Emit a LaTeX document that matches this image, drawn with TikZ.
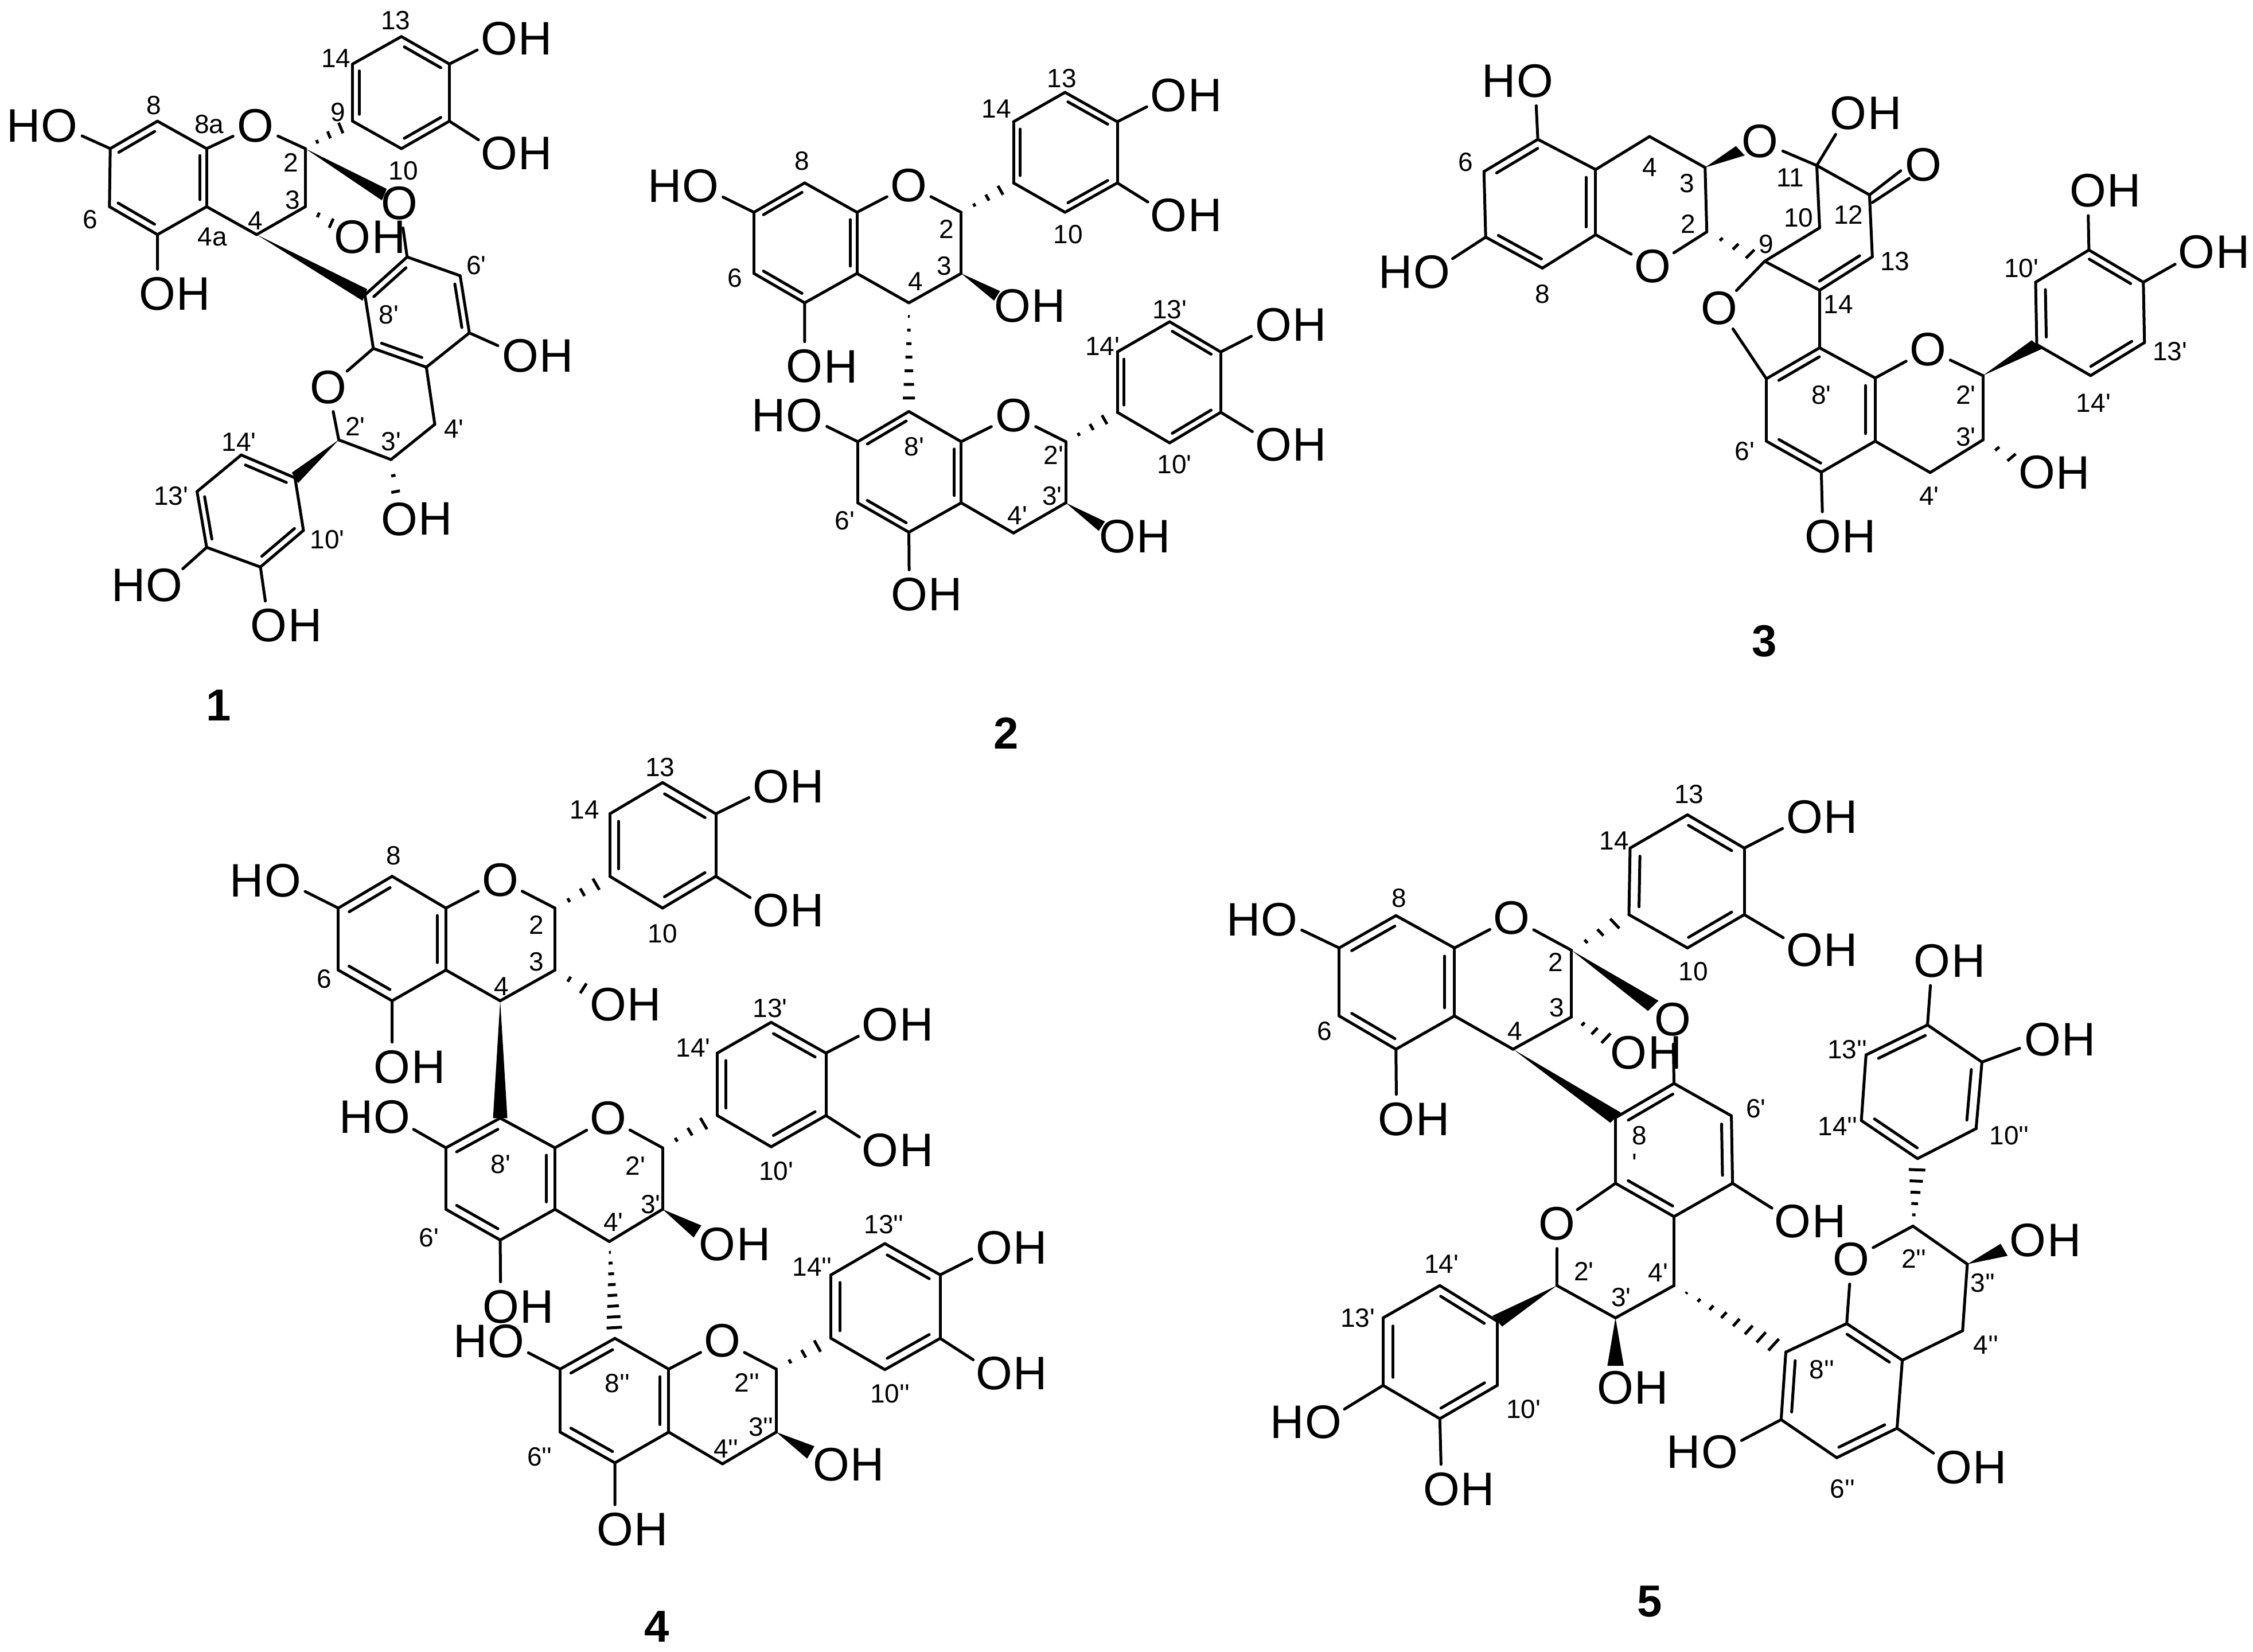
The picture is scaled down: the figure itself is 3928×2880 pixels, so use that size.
\documentclass[tikz,border=0pt]{standalone}
\usepackage{fontspec}
\usetikzlibrary{calc}
\newfontfamily\arialfont{Liberation Sans}
\tikzset{
  bond/.style={line width=5pt,line cap=round},
  oxygen/.style={circle,inner sep=0pt,minimum size=84pt,font=\arialfont\fontsize{82}{82}\selectfont},
  hatom/.style={inner sep=0pt,label distance=-10pt,font=\arialfont\fontsize{82}{82}\selectfont},
  hydroxy/.style={oxygen,label={[hatom]0:H}},
  hydroxyl/.style={oxygen,label={[hatom]180:H}},
  num/.style={inner sep=0pt,font=\arialfont\fontsize{46}{46}\selectfont},
  cpd/.style={inner sep=0pt,font=\arialfont\bfseries\fontsize{78}{78}\selectfont}
}
\newcommand\atoms[1]{\foreach \nm/\x/\y in {#1}{\coordinate (\nm) at (\x,\y);}}
\newcommand\oxy[1]{\foreach \nm/\x/\y in {#1}{\node[oxygen] (\nm) at (\x,\y) {O};}}
\newcommand\oh[1]{\foreach \nm/\x/\y in {#1}{\node[hydroxy] (\nm) at (\x,\y) {O};}}
\newcommand\ho[1]{\foreach \nm/\x/\y in {#1}{\node[hydroxyl] (\nm) at (\x,\y) {O};}}
\newcommand\bonds[1]{\foreach \p/\q in {#1}{\draw[bond] (\p)--(\q);}}
\newcommand\dbl[1]{\foreach \p/\q in {#1}{
  \draw[bond] (\p)--(\q);
  \draw[bond] ($(\p)!.12!(\q)!17pt!90:(\q)$)--($(\q)!.12!(\p)!17pt!-90:(\p)$);}}
\newcommand\wedgebond[3][0pt]{
  \coordinate (wend) at ($(#3)!#1!(#2)$);
  \fill (#2)--($(wend)!14pt!90:(#2)$)--($(wend)!14pt!-90:(#2)$)--cycle;}
\newcommand\hashbond[4][0pt]{
  \coordinate (hend) at ($(#3)!#1!(#2)$);
  \foreach \k in {1,...,#4}{
    \pgfmathsetmacro\tt{\k/(#4+1)}
    \pgfmathsetmacro\hw{17*\tt}
    \coordinate (hmid) at ($(#2)!\tt!(hend)$);
    \draw[line width=5pt] ($(hmid)!\hw pt!90:(hend)$)--($(hmid)!\hw pt!-90:(hend)$);}}
\newcommand\numbers[1]{\foreach \txt/\x/\y [count=\k] in {#1}{\node[num] (n\k) at (\x,\y) {\txt};}}
\begin{document}
\begin{tikzpicture}[x=1pt,y=-1pt]
\path[use as bounding box,fill=white] (0,0) rectangle (3928,2880);

\begin{scope}[name prefix=a-,shift={(0,0)},xscale=.6696,yscale=.7972]
\atoms{c8/410/265,c7/287/325,c6/285/452,c5/410/513,c4a/538/452,c8a/538/325,c2/795/325,c3/795/452,c4/668/513,
  c9/918/265,c14/918/140,c13/1045/80,c12/1170/140,c11/1170/265,c10/1045/325,
  c8p/950/645,c7p/1060/562,c6p/1198/603,c5p/1222/728,c4ap/1110/803,c8ap/972/762,c2p/882/962,c3p/1018/1005,c4p/1132/928,
  c9p/768/1045,c14p/628/995,c13p/513/1075,c12p/538/1197,c11p/678/1240,c10p/790/1160}
\oxy{o1/665/275,o7p/1040/445,o1p/855/847}
\ho{ho7/155/275,ho12p/428/1280}
\oh{oh5/410/643,oh12/1300/85,oh11/1300/335,oh3/918/518,oh5p/1355/778,oh3p/1040/1135,oh11p/700/1368}
\bonds{c7/c6,c5/c4a,c8a/c8,c8a/o1,o1/c2,c2/c3,c3/c4,c4/c4a,c7/ho7,c5/oh5,c14/c13,c12/c11,c10/c9,c12/oh12,c11/oh11,
  c7p/c6p,c5p/c4ap,c8ap/c8p,c7p/o7p,c5p/oh5p,c8ap/o1p,o1p/c2p,c2p/c3p,c3p/c4p,c4p/c4ap,
  c14p/c13p,c12p/c11p,c10p/c9p,c12p/ho12p,c11p/oh11p}
\dbl{c8/c7,c6/c5,c4a/c8a,c14/c9,c10/c11,c12/c13,c7p/c8p,c5p/c6p,c8ap/c4ap,c9p/c14p,c13p/c12p,c11p/c10p}
\hashbond{c2}{c9}{3}
\hashbond[25pt]{c3}{oh3}{2}
\hashbond[25pt]{c3p}{oh3p}{2}
\wedgebond[44pt]{c2}{o7p}
\wedgebond{c4}{c8p}
\wedgebond{c2p}{c9p}
\numbers{8/400/230,8a/545/272,2/758/355,3/762/437,4/665/482,4a/553/518,6/235/480,9/880/245,10/1050/373,13/1030/45,14/875/128,
  6'/1240/580,8'/1012/688,2'/925/932,3'/1018/965,4'/1182/938,14'/622/967,13'/445/1085,10'/852/1180}
\end{scope}

\begin{scope}[name prefix=b-,shift={(1050,100)},scale=.7015]
\atoms{c8/503/312,c7/377/385,c6/377/537,c5/503/610,c4a/633/537,c8a/633/385,c2/892/385,c3/892/537,c4/762/610,
  c9/1022/312,c14/1022/160,c13/1150/87,c12/1280/160,c11/1280/312,c10/1150/385,
  c8p/762/880,c7p/635/955,c6p/635/1107,c5p/762/1180,c4ap/892/1107,c8ap/892/955,c2p/1152/955,c3p/1152/1107,c4p/1022/1182,
  c9p/1280/882,c14p/1280/732,c13p/1410/657,c12p/1537/732,c11p/1537/882,c10p/1410/958}
\oxy{o1/762/318,o1p/1022/890}
\ho{ho7/245/320,ho7p/503/890}
\oh{oh5/503/768,oh12/1408/95,oh11/1408/392,oh3/1020/617,oh5p/763/1335,oh3p/1280/1190,oh12p/1668/665,oh11p/1668/962}
\bonds{c7/c6,c5/c4a,c8a/c8,c8a/o1,o1/c2,c2/c3,c3/c4,c4/c4a,c7/ho7,c5/oh5,c14/c13,c12/c11,c10/c9,c12/oh12,c11/oh11,
  c7p/c6p,c5p/c4ap,c8ap/c8p,c8ap/o1p,o1p/c2p,c2p/c3p,c3p/c4p,c4p/c4ap,c7p/ho7p,c5p/oh5p,
  c14p/c13p,c12p/c11p,c10p/c9p,c12p/oh12p,c11p/oh11p}
\dbl{c8/c7,c6/c5,c4a/c8a,c14/c9,c10/c11,c12/c13,c8p/c7p,c6p/c5p,c4ap/c8ap,c14p/c9p,c10p/c11p,c12p/c13p}
\hashbond{c2}{c9}{3}
\hashbond{c2p}{c9p}{3}
\hashbond{c4}{c8p}{7}
\wedgebond[46pt]{c3}{oh3}
\wedgebond[46pt]{c3p}{oh3p}
\numbers{8/497/258,6/330/548,2/855/427,3/850/518,4/778/557,14/980/128,13/1142/52,10/1158/440,
  8'/775/968,6'/603/1152,2'/1122/988,3'/1118/1090,4'/1032/1138,14'/1243/718,13'/1410/627,10'/1422/1012}
\end{scope}

\begin{scope}[name prefix=c-,shift={(2350,50)},xscale=.9885,yscale=.7015]
\atoms{c5/335/275,c6/240/355,c7/243/518,c8/343/595,c8a/437/512,c4a/437/350,c2/633/505,c3/630/345,c4/532/268,
  c11/827/340,c12/920/413,c13/925/567,c14/832/650,c9/735/578,c10/832/495,
  co1/975/353,co2/925/432,co3/990/372,
  c8p/832/793,c7p/738/870,c6p/738/1025,c5p/835/1102,c4ap/930/1025,c8ap/930/868,c2p/1120/862,c3p/1120/1022,c4p/1027/1103,
  c9p/1215/785,c10p/1213/630,c11p/1307/550,c12p/1403/630,c13p/1405/780,c14p/1310/862}
\oxy{o1/538/590,o3/727/280,o12/1015/338,o9/655/695,o1p/1023/797}
\ho{ho5/330/130,ho7/148/605}
\oh{oh11/883/210,oh5p/838/1262,oh3p/1215/1103,oh11p/1305/403,oh12p/1497/555}
\bonds{c6/c7,c8/c8a,c4a/c5,c5/ho5,c7/ho7,c8a/o1,o1/c2,c2/c3,c3/c4,c4/c4a,o3/c11,c11/oh11,c11/c12,c11/c10,c10/c9,c12/c13,c14/c9,
  c9/o9,o9/c7p,c14/c8p,c7p/c6p,c5p/c4ap,c8ap/c8p,c8ap/o1p,o1p/c2p,c2p/c3p,c3p/c4p,c4p/c4ap,c5p/oh5p,
  c9p/c14p,c13p/c12p,c11p/c10p,c11p/oh11p,c12p/oh12p,c12/co1,co2/co3}
\dbl{c5/c6,c7/c8,c8a/c4a,c14/c13,c8p/c7p,c6p/c5p,c4ap/c8ap,c10p/c9p,c14p/c13p,c12p/c11p}
\hashbond{c2}{c9}{3}
\hashbond[25pt]{c3p}{oh3p}{2}
\wedgebond[42pt]{c3}{o3}
\wedgebond{c2p}{c9p}
\numbers{6/208/332,4/532/345,3/598/385,2/600/485,8/343/660,11/780/370,10/795/470,12/883/463,9/738/535,13/965/578,14/865/685,
  8'/835/910,6'/700/1050,2'/1090/910,3'/1090/1015,4'/1025/1162,10'/1188/595,13'/1450/802,14'/1315/930}
\end{scope}

\begin{scope}[name prefix=d-,shift={(380,1300)},scale=.893]
\atoms{c8/340/255,c7/235/317,c6/235/438,c5/340/498,c4a/445/438,c8a/445/317,c2/658/317,c3/658/438,c4/551/498,
  c9/765/255,c14/765/133,c13/868/72,c12/972/133,c11/972/255,c10/868/317,
  c8p/551/727,c7p/445/785,c6p/445/905,c5p/551/965,c4ap/658/905,c8ap/658/785,c2p/868/785,c3p/868/905,c4p/764/968,
  c9p/975/722,c14p/975/600,c13p/1080/540,c12p/1187/600,c11p/1187/722,c10p/1080/783,
  c8q/775/1157,c7q/668/1217,c6q/668/1340,c5q/775/1400,c4aq/880/1340,c8aq/880/1217,c2q/1090/1217,c3q/1090/1340,c4q/985/1402,
  c9q/1197/1157,c14q/1197/1033,c13q/1302/972,c12q/1410/1033,c11q/1410/1157,c10q/1302/1218}
\oxy{o1/551/262,o1p/762/727,o1q/985/1162}
\ho{ho7/127/263,ho7p/340/725,ho7q/563/1163}
\oh{oh5/340/627,oh12/1080/80,oh11/1080/322,oh3/762/505,oh5p/552/1095,oh3p/975/973,oh12p/1293/545,oh11p/1293/790,
  oh5q/775/1530,oh3q/1197/1403,oh12q/1515/980,oh11q/1515/1225}
\bonds{c7/c6,c5/c4a,c8a/c8,c8a/o1,o1/c2,c2/c3,c3/c4,c4/c4a,c7/ho7,c5/oh5,c14/c13,c12/c11,c10/c9,c12/oh12,c11/oh11,
  c7p/c6p,c5p/c4ap,c8ap/c8p,c8ap/o1p,o1p/c2p,c2p/c3p,c3p/c4p,c4p/c4ap,c7p/ho7p,c5p/oh5p,
  c14p/c13p,c12p/c11p,c10p/c9p,c12p/oh12p,c11p/oh11p,
  c7q/c6q,c5q/c4aq,c8aq/c8q,c8aq/o1q,o1q/c2q,c2q/c3q,c3q/c4q,c4q/c4aq,c7q/ho7q,c5q/oh5q,
  c14q/c13q,c12q/c11q,c10q/c9q,c12q/oh12q,c11q/oh11q}
\dbl{c8/c7,c6/c5,c4a/c8a,c14/c9,c10/c11,c12/c13,c8p/c7p,c6p/c5p,c4ap/c8ap,c14p/c9p,c10p/c11p,c12p/c13p,
  c8q/c7q,c6q/c5q,c4aq/c8aq,c14q/c9q,c10q/c11q,c12q/c13q}
\hashbond{c2}{c9}{3}
\hashbond{c2p}{c9p}{3}
\hashbond{c2q}{c9q}{3}
\hashbond[25pt]{c3}{oh3}{2}
\hashbond{c4p}{c8q}{8}
\wedgebond{c4}{c8p}
\wedgebond[46pt]{c3p}{oh3p}
\wedgebond[46pt]{c3q}{oh3q}
\numbers{8/343/215,14/716/125,13/863/42,10/868/367,2/622/350,3/622/422,4/553/470,6/208/455,
  14'/928/590,13'/1078/512,10'/1090/830,2'/815/820,3'/845/895,4'/772/930,8'/552/817,6'/412/960,
  14''/1160/1018,13''/1300/935,10''/1312/1265,2''/1033/1243,3''/1060/1330,4''/992/1372,8''/780/1245,6''/628/1388}
\end{scope}

\begin{scope}[name prefix=e-,shift={(2100,1350)},xscale=1.0204,yscale=.829]
\atoms{c8/327/297,c7/230/365,c6/230/508,c5/327/578,c4a/427/508,c8a/427/365,c2/627/370,c3/627/510,c4/527/578,
  c9/725/295,c14/727/155,c13/825/85,c12/922/155,c11/922/295,c10/825/365,
  c8p/702/722,c7p/802/650,c6p/900/718,c5p/902/860,c4ap/802/930,c8ap/702/860,c2p/602/1075,c3p/702/1143,c4p/802/1075,
  c9p/500/1150,c14p/402/1075,c13p/305/1143,c12p/305/1285,c11p/402/1355,c10p/500/1285,
  c8q/993/1215,c7q/985/1357,c6q/1080/1437,c5q/1183/1375,c4aq/1192/1232,c8aq/1097/1155,c2q/1210/950,c3q/1303/1030,c4q/1295/1170,
  c9q/1218/808,c10q/1318/745,c11q/1328/605,c12q/1235/527,c13q/1130/590,c14q/1122/728}
\oxy{o1/525/302,o7p/800/515,o1p/602/945,o1q/1105/1020}
\ho{ho7/128/305,ho12p/203/1362,ho7q/880/1425}
\oh{oh5/328/725,oh12/1025/90,oh11/1025/370,oh3/725/585,oh5p/1005/940,oh3p/702/1290,oh11p/405/1503,
  oh5q/1280/1457,oh3q/1407/980,oh12q/1243/392,oh11q/1432/558}
\bonds{c7/c6,c5/c4a,c8a/c8,c8a/o1,o1/c2,c2/c3,c3/c4,c4/c4a,c7/ho7,c5/oh5,c14/c13,c12/c11,c10/c9,c12/oh12,c11/oh11,
  c7p/c6p,c5p/c4ap,c8ap/c8p,c7p/o7p,c5p/oh5p,c8ap/o1p,o1p/c2p,c2p/c3p,c3p/c4p,c4p/c4ap,
  c14p/c13p,c12p/c11p,c10p/c9p,c12p/ho12p,c11p/oh11p,
  c7q/c6q,c5q/c4aq,c8aq/c8q,c8aq/o1q,o1q/c2q,c2q/c3q,c3q/c4q,c4q/c4aq,c7q/ho7q,c5q/oh5q,
  c9q/c10q,c11q/c12q,c13q/c14q,c12q/oh12q,c11q/oh11q}
\dbl{c8/c7,c6/c5,c4a/c8a,c14/c9,c10/c11,c12/c13,c7p/c8p,c5p/c6p,c8ap/c4ap,c9p/c14p,c13p/c12p,c11p/c10p,
  c8q/c7q,c6q/c5q,c4aq/c8aq,c14q/c9q,c10q/c11q,c12q/c13q}
\hashbond{c2}{c9}{3}
\hashbond[25pt]{c3}{oh3}{3}
\hashbond{c4p}{c8q}{8}
\hashbond{c2q}{c9q}{5}
\wedgebond[44pt]{c2}{o7p}
\wedgebond{c4}{c8p}
\wedgebond{c2p}{c9p}
\wedgebond[46pt]{c3p}{oh3p}
\wedgebond[46pt]{c3q}{oh3q}
\numbers{8/332/260,6/205/540,2/600/395,3/602/490,4/530/540,14/700/140,13/828/42,10/835/415,6'/942/703,8/743/760,'/735/818,
  14'/405/1030,13'/262/1143,10'/545/1335,2'/648/1045,3'/712/1100,4'/775/1048,13''/1098/578,14''/1082/740,10''/1375/760,
  2''/1212/1018,3''/1330/1070,4''/1335/1200,8''/1055/1252,6''/1090/1503}
\end{scope}

\node[cpd] (cpd1) at (381,1230) {1};
\node[cpd] (cpd2) at (1754,1278) {2};
\node[cpd] (cpd3) at (3076,1118) {3};
\node[cpd] (cpd4) at (1145,2836) {4};
\node[cpd] (cpd5) at (2876,2792) {5};
\end{tikzpicture}
\end{document}
